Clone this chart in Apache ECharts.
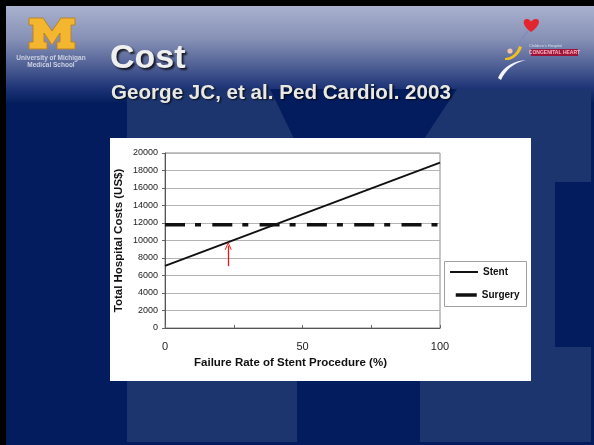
<!DOCTYPE html>
<html>
<head>
<meta charset="utf-8">
<script src="https://cdn.jsdelivr.net/npm/echarts@6/dist/echarts.min.js"></script>
<style>
  html, body { margin: 0; padding: 0; background: #000; }
  #chart { width: 594px; height: 445px; }
</style>
</head>
<body>
<div id="chart"></div>
<script>
// Cost comparison: stent vs surgery as a function of stent failure rate
const failureRate = [0, 100];            // % (x)
const stentCost = [7100, 18900];         // US$
const surgeryCost = [11800, 11800];      // US$
const seriesNames = ['Stent', 'Surgery'];
const costAxis = [0, 20000, 2000];       // min, max, step
const rateAxis = [0, 100, 50];           // min, max, step
const arrowRate = 23;                    // % where the arrow points
const arrowCost = [7070, 9400];          // arrow tail / head (US$)

const FONT = "'Liberation Sans', Arial, sans-serif";

const chart = echarts.init(document.getElementById('chart'), null, { renderer: 'canvas' });

// Turn a start point plus cubic segments [c1x,c1y,c2x,c2y,x,y] into polygon points
function curvePoints(start, segs, steps) {
  const pts = [start.slice()];
  let p0 = start;
  segs.forEach(s => {
    for (let i = 1; i <= steps; i++) {
      const t = i / steps, u = 1 - t;
      const x = u*u*u*p0[0] + 3*u*u*t*s[0] + 3*u*t*t*s[2] + t*t*t*s[4];
      const y = u*u*u*p0[1] + 3*u*u*t*s[1] + 3*u*t*t*s[3] + t*t*t*s[5];
      pts.push([x, y]);
    }
    p0 = [s[4], s[5]];
  });
  return pts;
}

// Block "M" outline (local coordinates, 46 x 31)
const blockM = [[0,0],[14,0],[23,13],[32,0],[46,0],[46,7],[42,7],[42,24],[46,24],[46,31],[28,31],[28,24],
  [31,24],[31,15],[23,27],[15,15],[15,24],[18,24],[18,31],[0,31],[0,24],[4,24],[4,7],[0,7]];

const heart = curvePoints([531,32], [[522,26,522,19,527,19],[529,19,531,21,531,22],[532,20,534,19,536,19],[541,19,540,26,531,32]], 8);
const banana = curvePoints([505,58], [[510,58,517,54,519,46],[520,46.3,521,46.7,522,47],[519,56,511,61,505,60]], 8);
const swoosh = curvePoints([498,78], [[502,68,512,61,526,60],[514,63,506,69,501,80]], 10);

const chevron = 'path://M0,10 L5,0 L10,10 L8.6,10 L5,2.6 L1.4,10 Z';

const bg = [
  // slide body
  { type: 'rect', z: -10, shape: { x: 6, y: 6, width: 588, height: 439 }, style: { fill: '#031c5e' } },
  // header fade
  { type: 'rect', z: -10, shape: { x: 6, y: 6, width: 588, height: 96 },
    style: { fill: new echarts.graphic.LinearGradient(0, 0, 0, 1, [
      { offset: 0, color: '#a9b1ce' }, { offset: 0.35, color: '#8590b5' },
      { offset: 0.65, color: '#4a5b92' }, { offset: 0.85, color: '#1f3577' }, { offset: 1, color: '#05205f' }]) } },
  // large background letter
  { type: 'rect', z: -9, shape: { x: 127, y: 89, width: 464, height: 353 }, style: { fill: '#1d356f' } },
  { type: 'polygon', z: -8, shape: { points: [[270,89],[457,89],[420,145],[420,445],[297,445],[297,145]] }, style: { fill: '#031c5e' } },
  { type: 'rect', z: -8, shape: { x: 555, y: 182, width: 39, height: 165 }, style: { fill: '#031c5e' } },
  // chart panel
  { type: 'rect', z: -5, shape: { x: 110, y: 138, width: 421, height: 243 }, style: { fill: '#ffffff' } },
  // legend frame
  { type: 'rect', z: 3, shape: { x: 444.5, y: 261.5, width: 82, height: 45 }, style: { fill: '#ffffff', stroke: '#a0a0a0', lineWidth: 1 } },
  // school logo
  { type: 'polygon', z: 5, x: 29, y: 18, shape: { points: blockM }, style: { fill: '#f4b52f', stroke: '#b9842a', lineWidth: 1 } },
  { type: 'text', z: 5, x: 51, y: 58.5, style: { text: 'University of Michigan', fontSize: 6.5, fontWeight: 'bold', fontFamily: FONT, fill: '#cdd1e2', align: 'center', verticalAlign: 'middle' } },
  { type: 'text', z: 5, x: 51, y: 65.5, style: { text: 'Medical School', fontSize: 6.5, fontWeight: 'bold', fontFamily: FONT, fill: '#cdd1e2', align: 'center', verticalAlign: 'middle' } },
  // heart logo
  { type: 'polygon', z: 5, shape: { points: heart }, style: { fill: '#e3262e' } },
  { type: 'polyline', z: 5, shape: { points: [[528,31],[521,40],[516,48]] }, style: { stroke: '#8086bd', lineWidth: 1.2, fill: null } },
  { type: 'circle', z: 5, shape: { cx: 510, cy: 51, r: 2.6 }, style: { fill: '#f2c4a0' } },
  { type: 'polygon', z: 5, shape: { points: banana }, style: { fill: '#f2c21c' } },
  { type: 'polygon', z: 5, shape: { points: swoosh }, style: { fill: '#f4f4fa' } },
  { type: 'text', z: 5, x: 532, y: 42, style: { text: 'C.S. Mott', fontSize: 4, fontFamily: FONT, fill: '#8e96b2', verticalAlign: 'middle' } },
  { type: 'text', z: 5, x: 529, y: 46, style: { text: "Children's Hospital", fontSize: 4, fontFamily: FONT, fill: '#d8dce8', verticalAlign: 'middle' } },
  { type: 'rect', z: 5, shape: { x: 531, y: 49, width: 47, height: 7 }, style: { fill: '#9c1438' } },
  { type: 'text', z: 6, x: 554.5, y: 52.5, style: { text: 'CONGENITAL HEART', fontSize: 5, fontWeight: 'bold', fontFamily: FONT, fill: '#ffb4c4', align: 'center', verticalAlign: 'middle' } },
  // slide heading
  { type: 'text', z: 6, x: 110, y: 59, style: { text: 'Cost', fontSize: 34, fontWeight: 'bold', fontFamily: FONT, fill: '#efefef', verticalAlign: 'middle',
      textShadowColor: 'rgba(0,0,0,0.75)', textShadowOffsetX: 2, textShadowOffsetY: 2, textShadowBlur: 2 } },
  { type: 'text', z: 6, x: 111, y: 93, style: { text: 'George JC, et al. Ped Cardiol. 2003', fontSize: 20.6, fontWeight: 'bold', fontFamily: FONT, fill: '#e9e9e4', verticalAlign: 'middle',
      textShadowColor: 'rgba(0,0,0,0.75)', textShadowOffsetX: 1.5, textShadowOffsetY: 1.5, textShadowBlur: 2 } }
];

const legendText = { fontSize: 10, fontWeight: 'bold', color: '#111', fontFamily: FONT };

const option = {
  animation: false,
  backgroundColor: '#000000',
  graphic: { elements: bg },
  grid: { left: 165, top: 153, width: 275, height: 175, show: true, borderColor: '#8a8a8a', borderWidth: 1, backgroundColor: 'transparent' },
  legend: [
    { data: [seriesNames[0]], left: 449, top: 267, padding: 0, itemWidth: 28, itemHeight: 8, itemGap: 0,
      textStyle: legendText, itemStyle: { opacity: 0 } },
    { data: [seriesNames[1]], left: 454, top: 290, padding: 0, itemWidth: 21, itemHeight: 8, itemGap: 0,
      textStyle: legendText, itemStyle: { opacity: 0 }, lineStyle: { type: 'solid', width: 3.5 } }
  ],
  xAxis: {
    type: 'value', min: rateAxis[0], max: rateAxis[1], interval: rateAxis[2],
    name: 'Failure Rate of Stent Procedure (%)', nameLocation: 'middle', nameGap: 29,
    nameTextStyle: { fontSize: 11.5, fontWeight: 'bold', color: '#111', fontFamily: FONT, padding: [0, 24, 0, 0] },
    axisLine: { lineStyle: { color: '#555', width: 1 } },
    axisTick: { show: true, inside: true, length: 3, lineStyle: { color: '#666' } },
    minorTick: { show: true, splitNumber: 2, length: 3, lineStyle: { color: '#666' } },
    axisLabel: { fontSize: 11, color: '#222', fontFamily: FONT, margin: 13 },
    splitLine: { show: false }
  },
  yAxis: {
    type: 'value', min: costAxis[0], max: costAxis[1], interval: costAxis[2],
    name: 'Total Hospital Costs (US$)', nameLocation: 'middle', nameGap: 40,
    nameTextStyle: { fontSize: 11.5, fontWeight: 'bold', color: '#111', fontFamily: FONT },
    axisLine: { show: true, lineStyle: { color: '#555', width: 1 } },
    axisTick: { show: true, length: 3, lineStyle: { color: '#666' } },
    axisLabel: { fontSize: 9, color: '#222', fontFamily: FONT, margin: 7, formatter: v => String(v) },
    splitLine: { show: true, lineStyle: { color: '#b4b4b4', width: 1 } }
  },
  series: [
    {
      name: seriesNames[0], type: 'line', symbol: 'none', z: 3,
      data: failureRate.map((x, i) => [x, stentCost[i]]),
      lineStyle: { color: '#111', width: 2 },
      itemStyle: { color: '#111' },
      markLine: {
        silent: true, symbol: ['none', chevron], symbolSize: [7, 8],
        label: { show: false },
        lineStyle: { color: '#f01414', width: 1.3, type: 'solid' },
        data: [[{ coord: [arrowRate, arrowCost[0]] }, { coord: [arrowRate, arrowCost[1]] }]]
      }
    },
    {
      name: seriesNames[1], type: 'line', symbol: 'none', z: 3,
      data: failureRate.map((x, i) => [x, surgeryCost[i]]),
      lineStyle: { color: '#111', width: 3.5, type: [20, 10, 6, 11.3], cap: 'butt' },
      itemStyle: { color: '#111' }
    }
  ]
};

chart.setOption(option);
</script>
</body>
</html>
